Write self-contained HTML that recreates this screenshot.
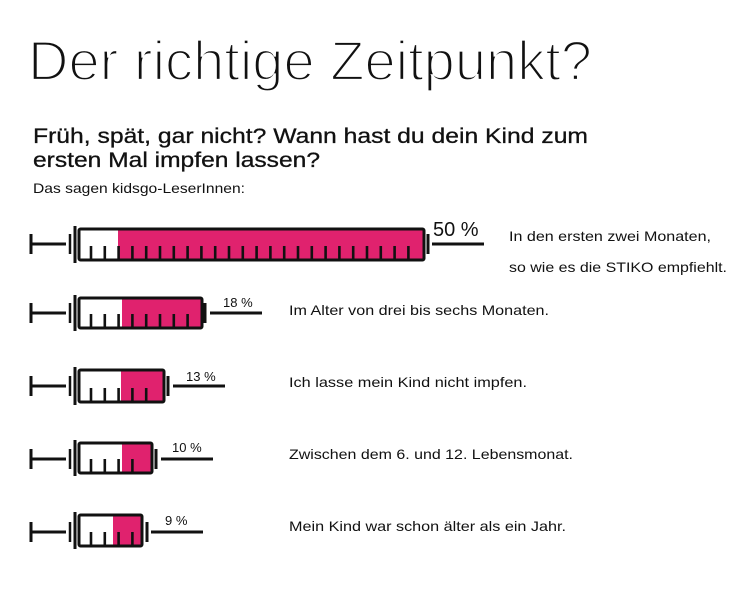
<!DOCTYPE html>
<html><head><meta charset="utf-8"><style>
html,body{margin:0;padding:0;background:#fff;}
svg{display:block;font-family:"Liberation Sans",sans-serif;}
</style></head><body>
<svg id="s" width="745" height="600" viewBox="0 0 745 600" xmlns="http://www.w3.org/2000/svg">
<rect width="745" height="600" fill="#fff"/>
<text x="28" y="80" font-size="56" textLength="564" lengthAdjust="spacingAndGlyphs" fill="#111" stroke="#fff" stroke-width="2.2">Der richtige Zeitpunkt?</text>
<text x="33" y="143" font-size="21" textLength="555" lengthAdjust="spacingAndGlyphs" fill="#111" stroke="#111" stroke-width="0.3">Früh, spät, gar nicht? Wann hast du dein Kind zum</text>
<text x="33" y="167" font-size="21" textLength="287" lengthAdjust="spacingAndGlyphs" fill="#111" stroke="#111" stroke-width="0.3">ersten Mal impfen lassen?</text>
<text x="33" y="193" font-size="14" textLength="212" lengthAdjust="spacingAndGlyphs" fill="#111">Das sagen kidsgo-LeserInnen:</text>
<g font-size="14" fill="#111">
<text x="509" y="241" textLength="202" lengthAdjust="spacingAndGlyphs">In den ersten zwei Monaten,</text>
<text x="509" y="272" textLength="218" lengthAdjust="spacingAndGlyphs">so wie es die STIKO empfiehlt.</text>
<text x="289" y="315" textLength="260" lengthAdjust="spacingAndGlyphs">Im Alter von drei bis sechs Monaten.</text>
<text x="289" y="387" textLength="238" lengthAdjust="spacingAndGlyphs">Ich lasse mein Kind nicht impfen.</text>
<text x="289" y="459" textLength="284" lengthAdjust="spacingAndGlyphs">Zwischen dem 6. und 12. Lebensmonat.</text>
<text x="289" y="531" textLength="277" lengthAdjust="spacingAndGlyphs">Mein Kind war schon älter als ein Jahr.</text>
</g>
<g id="syr"></g>
</svg>
<script>
var S=[
 {cy:244,t:229,b:260,x2:424,p:118,eb:428,n1:432,n2:484,lab:"50 %",lx:433,ly:236,fs:20},
 {cy:313,t:298,b:328,x2:202,p:122,eb:205,n1:210,n2:262,lab:"18 %",lx:223,ly:307,fs:13},
 {cy:386,t:370,b:402,x2:164,p:121,eb:168,n1:173,n2:225,lab:"13 %",lx:186,ly:381,fs:13},
 {cy:459,t:443,b:473,x2:152,p:122,eb:156,n1:161,n2:213,lab:"10 %",lx:172,ly:452,fs:13},
 {cy:532,t:515,b:546,x2:142,p:113,eb:147,n1:151,n2:203,lab:"9 %",lx:165,ly:525,fs:13}
];
var h="";
S.forEach(function(s){
 var x1=79;
 h+='<rect x="'+s.p+'" y="'+s.t+'" width="'+(s.x2-s.p)+'" height="'+(s.b-s.t)+'" fill="#e0226e"/>';
 h+='<rect x="'+x1+'" y="'+s.t+'" width="'+(s.x2-x1)+'" height="'+(s.b-s.t)+'" fill="none" stroke="#111" stroke-width="3" rx="1.5"/>';
 for(var x=91;x<s.x2-6;x+=13.8){h+='<line x1="'+x+'" y1="'+(s.b-14)+'" x2="'+x+'" y2="'+s.b+'" stroke="#111" stroke-width="2.6"/>';}
 h+='<line x1="31" y1="'+(s.cy-10)+'" x2="31" y2="'+(s.cy+10)+'" stroke="#111" stroke-width="3"/>';
 h+='<line x1="31" y1="'+s.cy+'" x2="66" y2="'+s.cy+'" stroke="#111" stroke-width="3"/>';
 h+='<line x1="70" y1="'+(s.cy-10)+'" x2="70" y2="'+(s.cy+10)+'" stroke="#111" stroke-width="2.5"/>';
 h+='<line x1="75" y1="'+(s.t-3)+'" x2="75" y2="'+(s.b+3)+'" stroke="#111" stroke-width="3"/>';
 h+='<line x1="'+s.eb+'" y1="'+(s.cy-10)+'" x2="'+s.eb+'" y2="'+(s.cy+10)+'" stroke="#111" stroke-width="3"/>';
 h+='<line x1="'+s.n1+'" y1="'+s.cy+'" x2="'+s.n2+'" y2="'+s.cy+'" stroke="#111" stroke-width="3"/>';
 h+='<text x="'+s.lx+'" y="'+s.ly+'" font-size="'+s.fs+'" fill="#111">'+s.lab+'</text>';
});
document.getElementById("syr").innerHTML=h;
</script>
</body></html>
